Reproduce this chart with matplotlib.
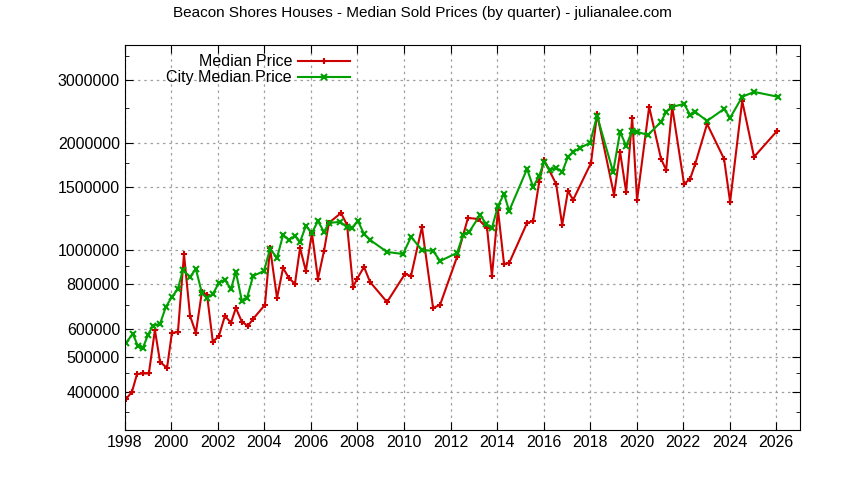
import matplotlib
matplotlib.use("Agg")
import matplotlib.pyplot as plt
from matplotlib.ticker import FixedLocator, FixedFormatter, NullFormatter

plt.rcParams['font.family'] = ['Liberation Sans', 'DejaVu Sans']

# Median sold price (Beacon Shores), year vs price in thousands
red_years = [1998.04, 1998.30, 1998.52, 1998.77, 1999.03, 1999.29, 1999.51, 1999.81, 2000.02, 2000.28,
             2000.54, 2000.80, 2001.05, 2001.31, 2001.53, 2001.78, 2002.04, 2002.30, 2002.56, 2002.77,
             2003.03, 2003.29, 2003.51, 2004.02, 2004.24, 2004.54, 2004.80, 2005.05, 2005.31, 2005.53,
             2005.78, 2006.04, 2006.30, 2006.56, 2006.77, 2007.29, 2007.55, 2007.81, 2007.98, 2008.28,
             2008.54, 2009.27, 2010.04, 2010.30, 2010.77, 2011.25, 2011.55, 2012.28, 2012.75, 2013.18,
             2013.57, 2013.78, 2014.04, 2014.30, 2014.52, 2015.29, 2015.55, 2015.81, 2016.02, 2016.54,
             2016.80, 2017.05, 2017.27, 2018.04, 2018.30, 2019.03, 2019.29, 2019.55, 2019.81, 2020.02,
             2020.54, 2021.05, 2021.27, 2021.53, 2022.04, 2022.30, 2022.52, 2023.03, 2023.76, 2024.02,
             2024.54, 2025.05, 2026.04]
red_prices = [381, 399, 448, 450, 450, 596, 485, 466, 585, 588,
              974, 653, 585, 762, 748, 552, 573, 653, 624, 687,
              628, 612, 640, 701, 1013, 733, 890, 834, 803, 1013,
              873, 1116, 829, 994, 1191, 1270, 1176, 787, 829, 896,
              813, 714, 856, 845, 1160, 687, 701, 956, 1230, 1222,
              1153, 845, 1295, 913, 919, 1191, 1206, 1552, 1790, 1532,
              1176, 1465, 1382, 1755, 2410, 1427, 1885, 1455, 2349, 1382,
              2522, 1802, 1678, 2522, 1532, 1583, 1744, 2259, 1802, 1364,
              2622, 1825, 2159]

# City median price
green_years = [1998.04, 1998.34, 1998.56, 1998.77, 1998.99, 1999.20, 1999.51, 1999.76, 2000.02, 2000.28,
               2000.49, 2000.80, 2001.05, 2001.31, 2001.53, 2001.78, 2002.04, 2002.30, 2002.56, 2002.77,
               2003.03, 2003.25, 2003.51, 2003.98, 2004.24, 2004.54, 2004.80, 2005.05, 2005.31, 2005.53,
               2005.78, 2006.04, 2006.30, 2006.56, 2006.77, 2007.25, 2007.55, 2007.76, 2008.02, 2008.28,
               2008.54, 2009.27, 2009.96, 2010.30, 2010.77, 2011.25, 2011.55, 2012.28, 2012.54, 2012.80,
               2013.27, 2013.53, 2013.78, 2014.04, 2014.30, 2014.52, 2015.29, 2015.55, 2015.81, 2016.02,
               2016.28, 2016.54, 2016.80, 2017.05, 2017.27, 2017.57, 2018.00, 2018.30, 2018.99, 2019.29,
               2019.55, 2019.81, 2020.02, 2020.49, 2021.05, 2021.27, 2021.53, 2022.04, 2022.30, 2022.52,
               2023.03, 2023.76, 2024.02, 2024.54, 2025.05, 2026.09]
green_prices = [548, 581, 537, 530, 577, 612, 620, 692, 738, 777,
                879, 840, 884, 757, 733, 752, 808, 824, 777, 868,
                719, 733, 845, 873, 1007, 950, 1102, 1067, 1095, 1053,
                1168, 1116, 1206, 1123, 1191, 1199, 1160, 1153, 1206, 1109,
                1067, 987, 974, 1088, 1000, 994, 931, 981, 1102, 1123,
                1254, 1183, 1153, 1329, 1437, 1287, 1689, 1503, 1614, 1767,
                1678, 1700, 1656, 1825, 1885, 1934, 2000, 2380, 1656, 2145,
                1960, 2159, 2145, 2104, 2289, 2442, 2522, 2571, 2394, 2442,
                2303, 2489, 2349, 2691, 2779, 2691]

y_ticks = [400000, 500000, 600000, 800000, 1000000, 1500000, 2000000, 3000000]
x_ticks = list(range(1998, 2027, 2))

fig = plt.figure(figsize=(8.44, 4.8), dpi=100)
ax = fig.add_axes([0.148, 0.104, 0.8, 0.802])

ax.plot(red_years, [p * 1000 for p in red_prices], color='#cc0000', lw=1.5,
        marker='+', ms=5, mew=1.5, label='Median Price')
ax.plot(green_years, [p * 1000 for p in green_prices], color='#00a000', lw=1.5,
        marker='x', ms=4.5, mew=1.5, label='City Median Price')

ax.set_yscale('log')
ax.set_ylim(312000, 3760000)
ax.set_xlim(1998, 2027.03)
ax.yaxis.set_major_locator(FixedLocator(y_ticks))
ax.yaxis.set_major_formatter(FixedFormatter([str(v) for v in y_ticks]))
ax.yaxis.set_minor_locator(FixedLocator([350000, 450000, 700000, 900000, 1250000, 1750000, 2500000, 3500000]))
ax.yaxis.set_minor_formatter(NullFormatter())
ax.set_xticks(x_ticks)
ax.tick_params(which='both', direction='in', top=True, right=True, labelsize=11.5)
ax.tick_params(which='major', length=6)
ax.tick_params(which='minor', length=3)
ax.grid(True, which='major', color='#a0a0a0', ls=(0, (2, 3)), lw=0.9)

fig.text(0.5, 0.972, 'Beacon Shores Houses - Median Sold Prices (by quarter) - julianalee.com',
         ha='center', va='center', fontsize=11)

ax.legend(loc='upper left', bbox_to_anchor=(0.045, 1.005), frameon=False, markerfirst=False,
          fontsize=11.5, handlelength=3.2, borderpad=0.2, labelspacing=0.05, handletextpad=0.4)

fig.savefig('out.png', dpi=100)
